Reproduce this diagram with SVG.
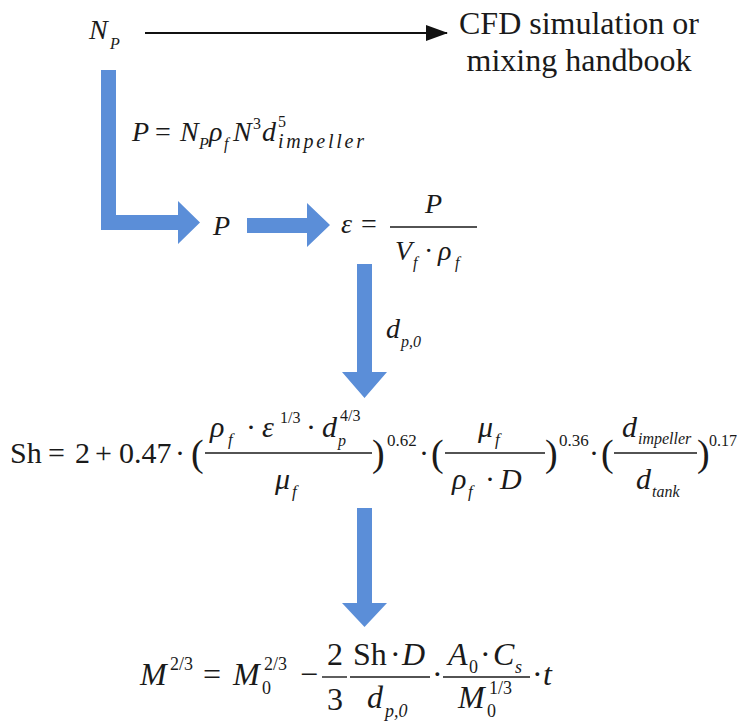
<svg xmlns="http://www.w3.org/2000/svg" width="737" height="725" viewBox="0 0 737 725" font-family="'Liberation Serif', 'Times New Roman', serif">
<style>
text{font-family:'Liberation Serif','Times New Roman',serif;fill:#1a1a1a}
.i{font-style:italic}
.m{font-size:28px}
.s{font-size:16px}
.b{font-size:30px}
.bs{font-size:17px}
.pr{font-size:38px}
.c{font-size:32px}
.cs{font-size:18px}
.blue{fill:#5b8ed8}
.fl{stroke:#1a1a1a;stroke-width:1.4}
</style>
<defs>
<marker id="ah" markerWidth="22" markerHeight="16" refX="21" refY="8" orient="auto" markerUnits="userSpaceOnUse">
<path d="M0,0 L22,8 L0,16 Z" fill="#111"/>
</marker>
</defs>
<rect width="737" height="725" fill="#fff"/>

<g id="connectors">
<line x1="145" y1="33" x2="447" y2="33" stroke="#111" stroke-width="2" marker-end="url(#ah)"/>
<polygon class="blue" points="101,70 116,70 116,215 178,215 178,201 200,222.5 178,244 178,230 101,230"/>
<polygon class="blue" points="247,218 307,218 307,203 330,225 307,247 307,233 247,233"/>
<polygon class="blue" points="357,264 372,264 372,372 387,372 364.5,398 342,372 357,372"/>
<polygon class="blue" points="357,508 372,508 372,603 387,603 364.5,627 342,603 357,603"/>
<g id="label-power">
<text class="m i" x="132" y="141">P</text>
<text class="m" x="155" y="141">=</text>
<text class="m i" x="180" y="141">N</text>
<text class="s i" x="199" y="149">P</text>
<text class="m i" x="209" y="141">ρ</text>
<text class="s i" x="224" y="149">f</text>
<text class="m i" x="233" y="141">N</text>
<text class="s" x="253" y="129">3</text>
<text class="m i" x="262" y="141">d</text>
<text class="s" x="278" y="127">5</text>
<text class="i" font-size="20" x="278" y="148" textLength="86" lengthAdjust="spacing">impeller</text>
</g>
<g id="label-dp0">
<text class="m i" x="386" y="338">d</text>
<text class="s i" x="401" y="347">p,0</text>
</g>
</g>

<g id="node-np">
<text class="m i" x="89" y="39">N</text>
<text class="s i" x="110" y="49">P</text>
</g>

<g id="node-cfd">
<text class="c" x="579" y="34" text-anchor="middle">CFD simulation or</text>
<text class="c" x="579" y="71" text-anchor="middle">mixing handbook</text>
</g>

<g id="node-p">
<text class="m i" x="213" y="235">P</text>
</g>

<g id="node-eps">
<text class="m i" x="341" y="233">ε</text>
<text class="m" x="361" y="233">=</text>
<line class="fl" x1="390" y1="227" x2="477" y2="227"/>
<text class="m i" x="425" y="213">P</text>
<text class="m i" x="395" y="260">V</text>
<text class="s i" x="413" y="268">f</text>
<text class="m" x="424" y="260">·</text>
<text class="m i" x="438" y="260">ρ</text>
<text class="s i" x="455" y="268">f</text>
</g>

<g id="node-sh">
<text class="b" x="10" y="463">Sh</text>
<text class="b" x="48" y="463">=</text>
<text class="b" x="75" y="463">2</text>
<text class="b" x="95" y="463">+</text>
<text class="b" x="119" y="463">0.47</text>
<text class="b" x="175" y="463">·</text>
<text class="pr" x="191" y="466">(</text>
<line class="fl" x1="205" y1="453" x2="372" y2="453"/>
<text class="b i" x="210" y="437">ρ</text>
<text class="bs i" x="228" y="445">f</text>
<text class="b" x="246" y="437">·</text>
<text class="b i" x="262" y="437">ε</text>
<text class="s" x="280" y="423">1/3</text>
<text class="b" x="306" y="437">·</text>
<text class="b i" x="322" y="437">d</text>
<text class="s i" x="338" y="446">p</text>
<text class="s" x="340" y="421">4/3</text>
<text class="b i" x="275" y="489">μ</text>
<text class="bs i" x="292" y="497">f</text>
<text class="pr" x="372" y="466">)</text>
<text class="bs" x="387" y="446">0.62</text>
<text class="b" x="419" y="463">·</text>
<text class="pr" x="431" y="466">(</text>
<line class="fl" x1="445" y1="453" x2="545" y2="453"/>
<text class="b i" x="478" y="437">μ</text>
<text class="bs i" x="495" y="445">f</text>
<text class="b i" x="452" y="489">ρ</text>
<text class="bs i" x="468" y="497">f</text>
<text class="b" x="485" y="489">·</text>
<text class="b i" x="500" y="489">D</text>
<text class="pr" x="545" y="466">)</text>
<text class="bs" x="559" y="446">0.36</text>
<text class="b" x="589" y="463">·</text>
<text class="pr" x="601" y="466">(</text>
<line class="fl" x1="614" y1="453" x2="697" y2="453"/>
<text class="b i" x="622" y="437">d</text>
<text class="s i" x="638" y="444">impeller</text>
<text class="b i" x="636" y="489">d</text>
<text class="s i" x="652" y="497">tank</text>
<text class="pr" x="697" y="466">)</text>
<text class="s" x="709" y="446">0.17</text>
</g>

<g id="node-m">
<text class="c i" x="140" y="685">M</text>
<text class="cs" x="170" y="670">2/3</text>
<text class="c" x="203" y="685">=</text>
<text class="c i" x="233" y="685">M</text>
<text class="cs" x="262" y="694">0</text>
<text class="cs" x="264" y="670">2/3</text>
<text class="c" x="300" y="685">−</text>
<line class="fl" x1="322" y1="677" x2="347" y2="677"/>
<text class="c" x="327" y="665">2</text>
<text class="c" x="327" y="710">3</text>
<line class="fl" x1="350" y1="677" x2="430" y2="677"/>
<text class="c" x="353" y="665">Sh</text>
<text class="c" x="390" y="665">·</text>
<text class="c i" x="402" y="665">D</text>
<text class="c i" x="367" y="708">d</text>
<text class="cs i" x="385" y="717">p,0</text>
<text class="c" x="432" y="685">·</text>
<line class="fl" x1="443" y1="677" x2="530" y2="677"/>
<text class="c i" x="448" y="665">A</text>
<text class="cs" x="469" y="673">0</text>
<text class="c" x="480" y="665">·</text>
<text class="c i" x="493" y="665">C</text>
<text class="cs i" x="515" y="673">s</text>
<text class="c i" x="458" y="708">M</text>
<text class="cs" x="487" y="717">0</text>
<text class="cs" x="489" y="694">1/3</text>
<text class="c" x="532" y="685">·</text>
<text class="c i" x="543" y="685">t</text>
</g>
</svg>
